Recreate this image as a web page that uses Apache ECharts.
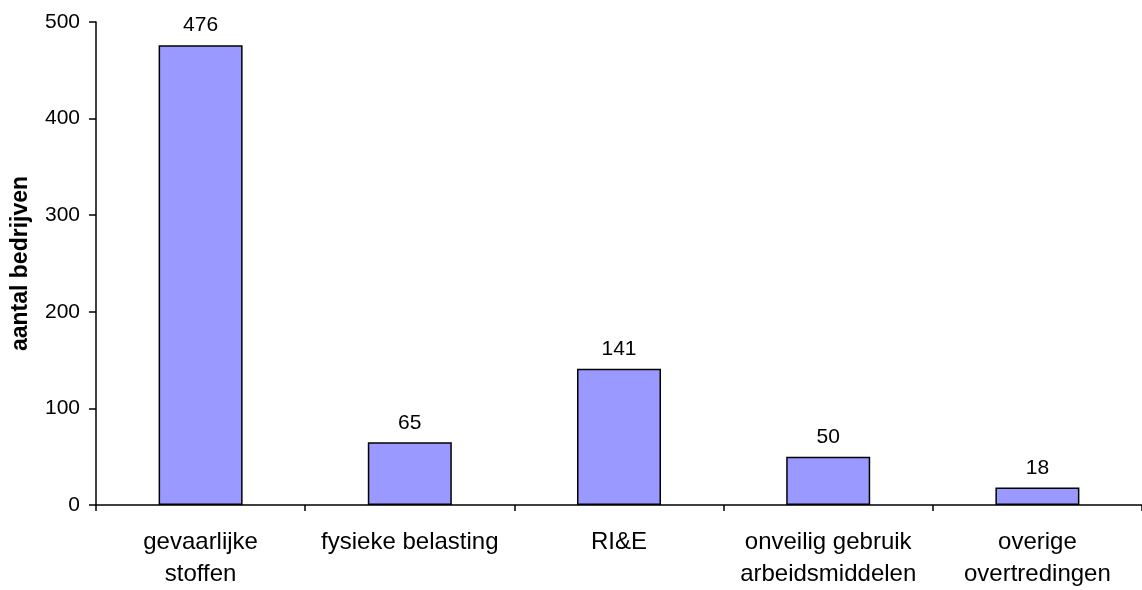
<!DOCTYPE html>
<html>
<head>
<meta charset="utf-8">
<script src="https://cdn.jsdelivr.net/npm/echarts@6/dist/echarts.min.js"></script>
<style>
html,body{margin:0;padding:0;background:#fff;}
#c{width:1142px;height:590px;}
</style>
</head>
<body>
<div id="c"></div>
<script>
var categories = ['gevaarlijke\nstoffen', 'fysieke belasting', 'RI&E', 'onveilig gebruik\narbeidsmiddelen', 'overige\novertredingen'];
var values = [476, 65, 141, 50, 18];
var yTicks = [0, 100, 200, 300, 400, 500];

var chart = echarts.init(document.getElementById('c'));
var FONT = '"Liberation Sans", Arial, sans-serif';
chart.setOption({
  animation: false,
  backgroundColor: '#ffffff',
  grid: { left: 96, top: 22, width: 1057, bottom: 80, containLabel: false },
  xAxis: {
    type: 'category',
    data: categories,
    axisLine: { lineStyle: { color: '#000', width: 1.5 } },
    axisTick: { show: true, length: 6, lineStyle: { color: '#000', width: 1.5 } },
    axisLabel: { color: '#000', fontSize: 24, fontFamily: FONT, lineHeight: 32, margin: 21, interval: 0 }
  },
  yAxis: {
    type: 'value',
    min: yTicks[0],
    max: yTicks[yTicks.length - 1],
    interval: 100,
    name: 'aantal bedrijven',
    nameLocation: 'middle',
    nameGap: 64,
    nameTextStyle: { color: '#000', fontSize: 23, fontWeight: 'bold', fontFamily: FONT },
    axisLine: { show: true, lineStyle: { color: '#000', width: 1.5 } },
    axisTick: { show: true, length: 7, lineStyle: { color: '#000', width: 1.5 } },
    axisLabel: { color: '#000', fontSize: 21, fontFamily: FONT, margin: 16 },
    splitLine: { show: false }
  },
  series: [{
    type: 'bar',
    data: values,
    barWidth: 84,
    itemStyle: { color: '#9999FF', borderColor: '#000', borderWidth: 1.5 },
    label: { show: true, position: 'top', distance: 9, color: '#000', fontSize: 21, fontFamily: FONT }
  }]
});
</script>
</body>
</html>
